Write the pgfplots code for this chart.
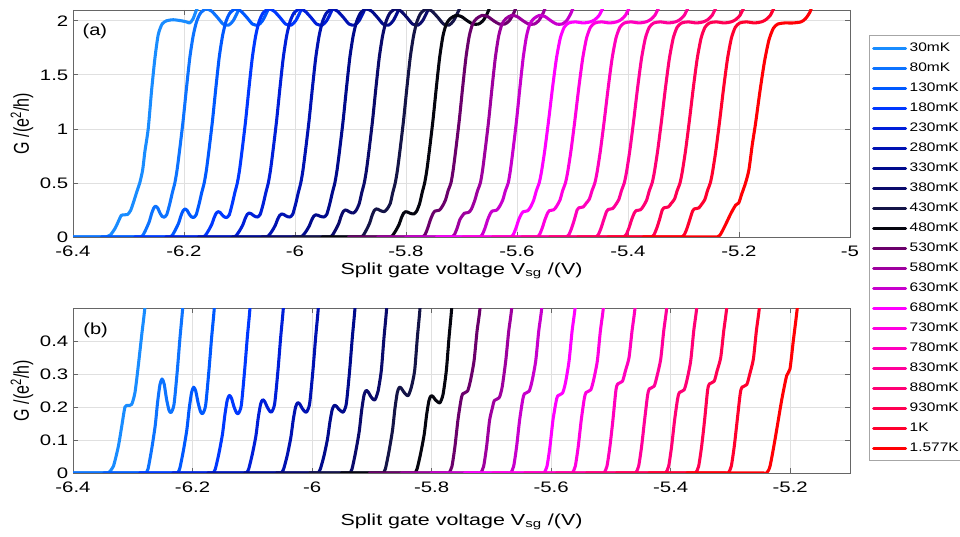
\documentclass[border=0pt]{standalone}
\usepackage{fontspec}
\setmainfont{Liberation Sans}
\usepackage{pgfplots}
\usepackage{pgfplotstable}
\pgfplotsset{compat=1.18}

\definecolor{cA}{rgb}{0.10,0.55,1.00}
\definecolor{cB}{rgb}{0.05,0.45,1.00}
\definecolor{cC}{rgb}{0.00,0.35,1.00}
\definecolor{cD}{rgb}{0.00,0.22,1.00}
\definecolor{cE}{rgb}{0.00,0.12,0.85}
\definecolor{cF}{rgb}{0.00,0.07,0.70}
\definecolor{cG}{rgb}{0.00,0.04,0.55}
\definecolor{cH}{rgb}{0.04,0.04,0.42}
\definecolor{cI}{rgb}{0.08,0.08,0.28}
\definecolor{cJ}{rgb}{0.02,0.02,0.06}
\definecolor{cK}{rgb}{0.42,0.00,0.42}
\definecolor{cL}{rgb}{0.62,0.00,0.62}
\definecolor{cM}{rgb}{0.78,0.00,0.80}
\definecolor{cN}{rgb}{1.00,0.00,1.00}
\definecolor{cO}{rgb}{1.00,0.00,0.88}
\definecolor{cP}{rgb}{1.00,0.00,0.74}
\definecolor{cQ}{rgb}{1.00,0.00,0.60}
\definecolor{cR}{rgb}{1.00,0.00,0.46}
\definecolor{cS}{rgb}{1.00,0.00,0.32}
\definecolor{cT}{rgb}{1.00,0.00,0.18}
\definecolor{cU}{rgb}{1.00,0.00,0.02}

% 30mK
\pgfplotstableread{
x y
-6.4645 0
-6.4309 0
-6.3809 0
-6.3559 0
-6.3459 0
-6.3409 0
-6.3325 0.02
-6.3242 0.08
-6.3186 0.14
-6.3130 0.20
-6.3074 0.205
-6.3018 0.208
-6.2963 0.244
-6.2907 0.326
-6.2851 0.417
-6.2795 0.505
-6.2745 0.62
-6.2705 0.79
-6.2645 1.00
-6.2585 1.35
-6.2525 1.65
-6.2465 1.87
-6.2395 1.97
-6.2315 2.00
-6.2195 2.01
-6.2045 2.00
-6.1955 1.99
-6.1895 1.98
-6.1835 2.02
-6.1775 2.10
-6.1675 2.20
}\tA
% 80mK
\pgfplotstableread{
x y
-6.4015 0
-6.3685 0
-6.3185 0
-6.2935 0
-6.2835 0
-6.2785 0
-6.2745 0.012
-6.2685 0.071
-6.2625 0.143
-6.2585 0.214
-6.2545 0.268
-6.2510 0.285
-6.2475 0.270
-6.2435 0.224
-6.2395 0.191
-6.2360 0.183
-6.2310 0.208
-6.2255 0.31
-6.2210 0.41
-6.2165 0.5
-6.2125 0.62
-6.2075 0.82
-6.2015 1.08
-6.1955 1.38
-6.1895 1.66
-6.1835 1.86
-6.1775 1.99
-6.1705 2.07
-6.1605 2.11
-6.1505 2.09
-6.1395 2.03
-6.1295 1.97
-6.1195 1.96
-6.1115 2.00
-6.1035 2.08
-6.0935 2.20
}\tB
% 130mK
\pgfplotstableread{
x y
-6.3486 0
-6.3156 0
-6.2656 0
-6.2406 0
-6.2306 0
-6.2256 0
-6.2216 0.012
-6.2156 0.065
-6.2096 0.13
-6.2056 0.195
-6.2016 0.244
-6.1981 0.26
-6.1946 0.248
-6.1906 0.212
-6.1866 0.186
-6.1831 0.18
-6.1781 0.205
-6.1726 0.31
-6.1681 0.41
-6.1636 0.5
-6.1596 0.62
-6.1546 0.82
-6.1486 1.08
-6.1426 1.38
-6.1366 1.66
-6.1306 1.86
-6.1246 1.99
-6.1176 2.07
-6.1076 2.11
-6.0976 2.09
-6.0866 2.03
-6.0766 1.97
-6.0666 1.96
-6.0586 2.00
-6.0506 2.08
-6.0406 2.20
}\tC
% 180mK
\pgfplotstableread{
x y
-6.2889 0
-6.2559 0
-6.2059 0
-6.1809 0
-6.1709 0
-6.1659 0
-6.1619 0.012
-6.1559 0.059
-6.1499 0.118
-6.1459 0.176
-6.1419 0.221
-6.1384 0.235
-6.1349 0.227
-6.1309 0.202
-6.1269 0.184
-6.1234 0.18
-6.1184 0.205
-6.1129 0.31
-6.1084 0.41
-6.1039 0.5
-6.0999 0.62
-6.0949 0.82
-6.0889 1.08
-6.0829 1.38
-6.0769 1.66
-6.0709 1.86
-6.0649 1.99
-6.0579 2.07
-6.0479 2.11
-6.0379 2.09
-6.0269 2.03
-6.0169 1.97
-6.0069 1.96
-5.9989 2.00
-5.9909 2.08
-5.9809 2.20
}\tD
% 230mK
\pgfplotstableread{
x y
-6.2331 0
-6.2001 0
-6.1501 0
-6.1251 0
-6.1151 0
-6.1101 0
-6.1061 0.012
-6.1001 0.056
-6.0941 0.111
-6.0901 0.167
-6.0861 0.209
-6.0826 0.222
-6.0791 0.216
-6.0751 0.200
-6.0711 0.188
-6.0676 0.185
-6.0626 0.21
-6.0571 0.31
-6.0526 0.41
-6.0481 0.5
-6.0441 0.62
-6.0391 0.82
-6.0331 1.08
-6.0271 1.38
-6.0211 1.66
-6.0151 1.86
-6.0091 1.99
-6.0021 2.07
-5.9921 2.11
-5.9821 2.09
-5.9711 2.03
-5.9611 1.97
-5.9511 1.96
-5.9431 2.00
-5.9351 2.08
-5.9251 2.20
}\tE
% 280mK
\pgfplotstableread{
x y
-6.1746 0
-6.1416 0
-6.0916 0
-6.0666 0
-6.0566 0
-6.0516 0
-6.0476 0.012
-6.0416 0.053
-6.0356 0.107
-6.0316 0.160
-6.0276 0.200
-6.0241 0.213
-6.0206 0.209
-6.0166 0.196
-6.0126 0.187
-6.0091 0.185
-6.0041 0.21
-5.9986 0.31
-5.9941 0.41
-5.9896 0.5
-5.9856 0.62
-5.9806 0.82
-5.9746 1.08
-5.9686 1.38
-5.9626 1.66
-5.9566 1.86
-5.9506 1.99
-5.9436 2.07
-5.9336 2.11
-5.9236 2.09
-5.9126 2.03
-5.9026 1.97
-5.8926 1.96
-5.8846 2.00
-5.8766 2.08
-5.8666 2.20
}\tF
% 330mK
\pgfplotstableread{
x y
-6.1132 0
-6.0802 0
-6.0302 0
-6.0052 0
-5.9952 0
-5.9902 0
-5.9862 0.012
-5.9802 0.051
-5.9742 0.103
-5.9702 0.154
-5.9662 0.193
-5.9627 0.205
-5.9592 0.202
-5.9552 0.193
-5.9512 0.187
-5.9477 0.185
-5.9427 0.21
-5.9372 0.31
-5.9327 0.41
-5.9282 0.5
-5.9242 0.62
-5.9192 0.82
-5.9132 1.08
-5.9072 1.38
-5.9012 1.66
-5.8952 1.86
-5.8892 1.99
-5.8822 2.07
-5.8722 2.11
-5.8622 2.09
-5.8512 2.03
-5.8412 1.97
-5.8312 1.96
-5.8232 2.00
-5.8152 2.08
-5.8052 2.20
}\tG
% 380mK
\pgfplotstableread{
x y
-6.0602 0
-6.0272 0
-5.9772 0
-5.9522 0
-5.9422 0
-5.9372 0
-5.9332 0.012
-5.9272 0.063
-5.9212 0.125
-5.9172 0.188
-5.9132 0.235
-5.9097 0.25
-5.9062 0.246
-5.9022 0.233
-5.8982 0.224
-5.8947 0.222
-5.8897 0.247
-5.8842 0.31
-5.8797 0.41
-5.8752 0.5
-5.8712 0.62
-5.8662 0.82
-5.8602 1.08
-5.8542 1.38
-5.8482 1.66
-5.8422 1.86
-5.8362 1.99
-5.8292 2.07
-5.8192 2.11
-5.8092 2.09
-5.7982 2.03
-5.7882 1.97
-5.7782 1.96
-5.7702 2.00
-5.7622 2.08
-5.7522 2.20
}\tH
% 430mK
\pgfplotstableread{
x y
-6.0044 0
-5.9714 0
-5.9214 0
-5.8964 0
-5.8864 0
-5.8814 0
-5.8774 0.012
-5.8714 0.065
-5.8654 0.13
-5.8614 0.195
-5.8574 0.244
-5.8539 0.26
-5.8504 0.256
-5.8464 0.245
-5.8424 0.237
-5.8389 0.235
-5.8339 0.26
-5.8284 0.31
-5.8239 0.41
-5.8194 0.5
-5.8154 0.62
-5.8104 0.82
-5.8044 1.08
-5.7984 1.38
-5.7924 1.66
-5.7864 1.86
-5.7804 1.99
-5.7734 2.07
-5.7634 2.11
-5.7534 2.09
-5.7424 2.03
-5.7324 1.97
-5.7224 1.96
-5.7144 2.00
-5.7064 2.08
-5.6964 2.20
}\tI
% 480mK
\pgfplotstableread{
x y
-5.9514 0
-5.9184 0
-5.8684 0
-5.8434 0
-5.8334 0
-5.8284 0
-5.8244 0.012
-5.8184 0.059
-5.8124 0.117
-5.8084 0.176
-5.8044 0.220
-5.8009 0.234
-5.7974 0.231
-5.7934 0.221
-5.7894 0.215
-5.7859 0.213
-5.7809 0.238
-5.7754 0.31
-5.7709 0.41
-5.7664 0.5
-5.7624 0.62
-5.7574 0.82
-5.7514 1.08
-5.7454 1.38
-5.7394 1.66
-5.7334 1.86
-5.7274 1.97
-5.7204 2.02
-5.7104 2.05
-5.7004 2.04
-5.6894 2.00
-5.6794 1.97
-5.6694 1.97
-5.6614 2.00
-5.6534 2.07
-5.6434 2.20
}\tJ
% 530mK
\pgfplotstableread{
x y
-5.9040 0
-5.8610 0
-5.8110 0
-5.7860 0
-5.7760 0
-5.7710 0
-5.7660 0.02
-5.7610 0.08
-5.7560 0.16
-5.7510 0.22
-5.7480 0.24
-5.7400 0.248
-5.7350 0.28
-5.7290 0.34
-5.7240 0.43
-5.7190 0.5
-5.7150 0.62
-5.7100 0.82
-5.7040 1.08
-5.6980 1.38
-5.6920 1.66
-5.6860 1.86
-5.6800 1.97
-5.6730 2.02
-5.6630 2.05
-5.6530 2.04
-5.6420 2.00
-5.6320 1.97
-5.6220 1.97
-5.6140 2.00
-5.6060 2.07
-5.5960 2.20
}\tK
% 580mK
\pgfplotstableread{
x y
-5.8510 0
-5.8080 0
-5.7580 0
-5.7330 0
-5.7230 0
-5.7180 0
-5.7130 0.02
-5.7080 0.08
-5.7030 0.16
-5.6980 0.20
-5.6950 0.22
-5.6870 0.228
-5.6820 0.26
-5.6760 0.34
-5.6710 0.43
-5.6660 0.5
-5.6620 0.62
-5.6570 0.82
-5.6510 1.08
-5.6450 1.38
-5.6390 1.66
-5.6330 1.86
-5.6270 1.97
-5.6200 2.02
-5.6100 2.05
-5.6000 2.04
-5.5890 2.00
-5.5790 1.97
-5.5690 1.97
-5.5610 2.00
-5.5530 2.07
-5.5430 2.20
}\tL
% 630mK
\pgfplotstableread{
x y
-5.8008 0
-5.7578 0
-5.7078 0
-5.6828 0
-5.6728 0
-5.6678 0
-5.6628 0.02
-5.6578 0.08
-5.6528 0.16
-5.6478 0.22
-5.6448 0.24
-5.6368 0.248
-5.6318 0.28
-5.6258 0.34
-5.6208 0.43
-5.6158 0.5
-5.6118 0.62
-5.6068 0.82
-5.6008 1.08
-5.5948 1.38
-5.5888 1.66
-5.5828 1.86
-5.5768 1.97
-5.5698 2.02
-5.5598 2.05
-5.5498 2.04
-5.5388 2.00
-5.5288 1.97
-5.5188 1.97
-5.5108 2.00
-5.5028 2.07
-5.4928 2.20
}\tM
% 680mK
\pgfplotstableread{
x y
-5.7450 0
-5.7020 0
-5.6520 0
-5.6270 0
-5.6170 0
-5.6120 0
-5.6070 0.02
-5.6020 0.08
-5.5970 0.16
-5.5920 0.214
-5.5890 0.234
-5.5810 0.242
-5.5760 0.274
-5.5700 0.34
-5.5650 0.43
-5.5600 0.5
-5.5560 0.6
-5.5500 0.8
-5.5430 1.08
-5.5360 1.38
-5.5290 1.65
-5.5220 1.84
-5.5150 1.94
-5.5070 1.98
-5.4950 1.99
-5.4800 1.98
-5.4680 1.99
-5.4600 2.01
-5.4520 2.05
-5.4450 2.12
-5.4350 2.20
}\tN
% 730mK
\pgfplotstableread{
x y
-5.6977 0
-5.6547 0
-5.6047 0
-5.5797 0
-5.5697 0
-5.5647 0
-5.5597 0.02
-5.5547 0.08
-5.5497 0.16
-5.5447 0.224
-5.5417 0.244
-5.5337 0.252
-5.5287 0.284
-5.5227 0.34
-5.5177 0.43
-5.5127 0.5
-5.5087 0.6
-5.5027 0.8
-5.4957 1.08
-5.4887 1.38
-5.4817 1.65
-5.4747 1.84
-5.4677 1.94
-5.4597 1.98
-5.4477 1.99
-5.4327 1.98
-5.4207 1.99
-5.4127 2.01
-5.4047 2.05
-5.3977 2.12
-5.3877 2.20
}\tO
% 780mK
\pgfplotstableread{
x y
-5.6447 0
-5.6017 0
-5.5517 0
-5.5267 0
-5.5167 0
-5.5117 0
-5.5067 0.02
-5.5017 0.08
-5.4967 0.16
-5.4917 0.25
-5.4887 0.27
-5.4807 0.278
-5.4757 0.31
-5.4697 0.35
-5.4647 0.43
-5.4597 0.5
-5.4557 0.6
-5.4497 0.8
-5.4427 1.08
-5.4357 1.38
-5.4287 1.65
-5.4217 1.84
-5.4147 1.94
-5.4067 1.98
-5.3947 1.99
-5.3797 1.98
-5.3677 1.99
-5.3597 2.01
-5.3517 2.05
-5.3447 2.12
-5.3347 2.20
}\tP
% 830mK
\pgfplotstableread{
x y
-5.5917 0
-5.5487 0
-5.4987 0
-5.4737 0
-5.4637 0
-5.4587 0
-5.4537 0.02
-5.4487 0.08
-5.4437 0.16
-5.4387 0.235
-5.4357 0.255
-5.4277 0.263
-5.4227 0.295
-5.4167 0.345
-5.4117 0.43
-5.4067 0.5
-5.4027 0.6
-5.3967 0.8
-5.3897 1.08
-5.3827 1.38
-5.3757 1.65
-5.3687 1.84
-5.3617 1.94
-5.3537 1.98
-5.3417 1.99
-5.3267 1.98
-5.3147 1.99
-5.3067 2.01
-5.2987 2.05
-5.2917 2.12
-5.2817 2.20
}\tQ
% 880mK
\pgfplotstableread{
x y
-5.5415 0
-5.4985 0
-5.4485 0
-5.4235 0
-5.4135 0
-5.4085 0
-5.4035 0.02
-5.3985 0.08
-5.3935 0.16
-5.3885 0.224
-5.3855 0.244
-5.3775 0.252
-5.3725 0.284
-5.3665 0.34
-5.3615 0.43
-5.3565 0.5
-5.3525 0.6
-5.3465 0.8
-5.3395 1.08
-5.3325 1.38
-5.3255 1.65
-5.3185 1.84
-5.3115 1.94
-5.3035 1.98
-5.2915 1.99
-5.2765 1.98
-5.2645 1.99
-5.2565 2.01
-5.2485 2.05
-5.2415 2.12
-5.2315 2.20
}\tR
% 930mK
\pgfplotstableread{
x y
-5.4913 0
-5.4483 0
-5.3983 0
-5.3733 0
-5.3633 0
-5.3583 0
-5.3533 0.02
-5.3483 0.08
-5.3433 0.16
-5.3383 0.25
-5.3353 0.27
-5.3273 0.278
-5.3223 0.31
-5.3163 0.35
-5.3113 0.43
-5.3063 0.5
-5.3023 0.6
-5.2963 0.8
-5.2893 1.08
-5.2823 1.38
-5.2753 1.65
-5.2683 1.84
-5.2613 1.94
-5.2533 1.98
-5.2413 1.99
-5.2263 1.98
-5.2143 1.99
-5.2063 2.01
-5.1983 2.05
-5.1913 2.12
-5.1813 2.20
}\tS
% 1K
\pgfplotstableread{
x y
-5.4367 0
-5.3937 0
-5.3437 0
-5.3187 0
-5.3087 0
-5.3037 0
-5.2987 0.02
-5.2937 0.08
-5.2887 0.16
-5.2837 0.24
-5.2807 0.26
-5.2727 0.268
-5.2677 0.30
-5.2617 0.345
-5.2567 0.43
-5.2517 0.5
-5.2477 0.6
-5.2417 0.8
-5.2347 1.08
-5.2277 1.38
-5.2207 1.65
-5.2137 1.84
-5.2067 1.94
-5.1987 1.98
-5.1867 1.99
-5.1717 1.98
-5.1597 1.99
-5.1517 2.01
-5.1437 2.05
-5.1367 2.12
-5.1267 2.20
}\tT
% 1.577K
\pgfplotstableread{
x y
-5.3732 0
-5.3295 0
-5.2795 0
-5.2545 0
-5.2445 0
-5.2395 0
-5.2339 0.02
-5.2256 0.10
-5.2144 0.22
-5.2060 0.295
-5.2005 0.315
-5.1949 0.40
-5.1882 0.5
-5.1822 0.62
-5.1762 0.85
-5.1702 1.05
-5.1622 1.35
-5.1542 1.62
-5.1462 1.82
-5.1382 1.93
-5.1302 1.97
-5.1182 1.98
-5.1032 1.98
-5.0882 1.99
-5.0802 2.02
-5.0722 2.08
-5.0642 2.20
}\tU

\tikzset{curve/.style={smooth, tension=0.4, line width=2.3bp, line join=round, line cap=round}}
\pgfplotsset{
  panel/.style={
    scale only axis, width=582.75bp, xmin=-6.4, ymin=0,
    axis line style={draw=black!60, line width=0.6pt},
    tick style={draw=black!60, line width=0.6pt},
    major tick length=4bp, tick align=inside,
    xmajorgrids, ymajorgrids,
    grid style={draw=black!12, line width=0.6pt},
    /pgf/number format/assume math mode=true,
    ticklabel style={font=\fontsize{11.4bp}{13bp}\selectfont},
    xticklabel={\scalebox{1.34}[1]{\pgfmathprintnumber{\tick}}},
    yticklabel={\scalebox{1.34}[1]{\pgfmathprintnumber{\tick}}},
    xticklabel style={yshift=-3bp},
    xlabel={Split gate voltage V\textsubscript{sg} /(V)},
    ylabel={G /(e\textsuperscript{2}/h)},
    label style={font=\fontsize{12bp}{14bp}\selectfont},
    ylabel style={at={(axis description cs:-0.0656,0.5)}, anchor=center, yscale=1.34},
  },
}

\begin{document}
\begin{tikzpicture}
\begin{axis}[panel, at={(54.75bp,225bp)}, anchor=south west, height=170.25bp,
  xmax=-5, ymax=2.1,
  xtick={-6.4,-6.2,-6,-5.8,-5.6,-5.4,-5.2,-5},
  ytick={0,0.5,1,1.5,2},
  xlabel style={at={(axis description cs:0.5,-0.15)}, anchor=center, xscale=1.34},
  legend entries={30mK,80mK,130mK,180mK,230mK,280mK,330mK,380mK,430mK,480mK,530mK,580mK,630mK,680mK,730mK,780mK,830mK,880mK,930mK,1K,1.577K},
  legend cell align=left,
  legend image code/.code={\draw[#1, line width=2.3bp] (0bp,0bp) -- (24bp,0bp);},
  legend style={at={(1.0245,0.8899)}, anchor=north west, draw=black!35, fill=white, line width=0.6pt,
    inner xsep=2bp, inner ysep=2bp, row sep=0pt,
    font=\fontsize{9.3bp}{11bp}\selectfont,
    nodes={inner xsep=1.5bp, inner ysep=2.2bp, text height=7.8bp, text depth=2.8bp, xscale=1.25}},
]
\addplot[curve, cA] table {\tA};
\addplot[curve, cB] table {\tB};
\addplot[curve, cC] table {\tC};
\addplot[curve, cD] table {\tD};
\addplot[curve, cE] table {\tE};
\addplot[curve, cF] table {\tF};
\addplot[curve, cG] table {\tG};
\addplot[curve, cH] table {\tH};
\addplot[curve, cI] table {\tI};
\addplot[curve, cJ] table {\tJ};
\addplot[curve, cK] table {\tK};
\addplot[curve, cL] table {\tL};
\addplot[curve, cM] table {\tM};
\addplot[curve, cN] table {\tN};
\addplot[curve, cO] table {\tO};
\addplot[curve, cP] table {\tP};
\addplot[curve, cQ] table {\tQ};
\addplot[curve, cR] table {\tR};
\addplot[curve, cS] table {\tS};
\addplot[curve, cT] table {\tT};
\addplot[curve, cU] table {\tU};
\node[anchor=west, inner sep=0pt, font=\fontsize{12bp}{14bp}\selectfont, xscale=1.25] at (rel axis cs:0.012,0.907) {(a)};
\end{axis}

\begin{axis}[panel, at={(54.75bp,48bp)}, anchor=south west, height=123.75bp,
  xmax=-5.1, ymax=0.5,
  xtick={-6.4,-6.2,-6,-5.8,-5.6,-5.4,-5.2},
  ytick={0,0.1,0.2,0.3,0.4},
  xlabel style={at={(axis description cs:0.5,-0.297)}, anchor=center, xscale=1.34},
]
\addplot[curve, cA] table {\tA};
\addplot[curve, cB] table {\tB};
\addplot[curve, cC] table {\tC};
\addplot[curve, cD] table {\tD};
\addplot[curve, cE] table {\tE};
\addplot[curve, cF] table {\tF};
\addplot[curve, cG] table {\tG};
\addplot[curve, cH] table {\tH};
\addplot[curve, cI] table {\tI};
\addplot[curve, cJ] table {\tJ};
\addplot[curve, cK] table {\tK};
\addplot[curve, cL] table {\tL};
\addplot[curve, cM] table {\tM};
\addplot[curve, cN] table {\tN};
\addplot[curve, cO] table {\tO};
\addplot[curve, cP] table {\tP};
\addplot[curve, cQ] table {\tQ};
\addplot[curve, cR] table {\tR};
\addplot[curve, cS] table {\tS};
\addplot[curve, cT] table {\tT};
\addplot[curve, cU] table {\tU};
\node[anchor=west, inner sep=0pt, font=\fontsize{12bp}{14bp}\selectfont, xscale=1.25] at (rel axis cs:0.013,0.867) {(b)};
\end{axis}
\pgfresetboundingbox
\path[use as bounding box] (0,0) rectangle (720bp,402.75bp);
\end{tikzpicture}
\end{document}
